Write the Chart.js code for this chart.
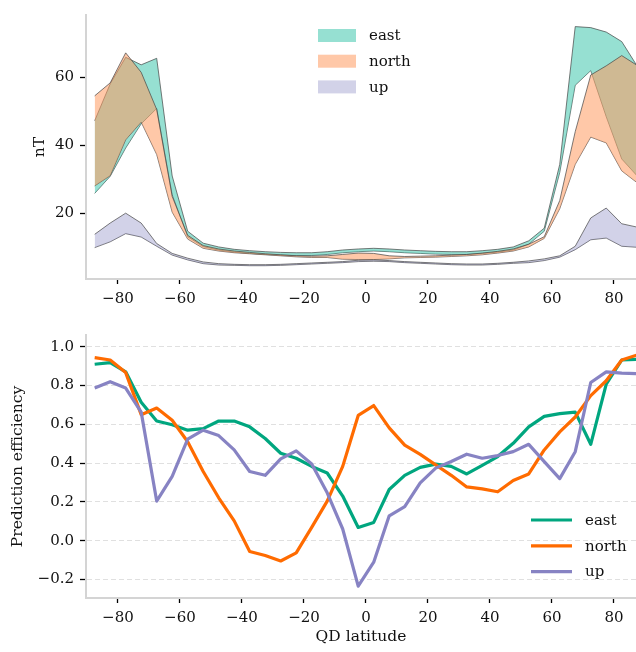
<!DOCTYPE html>
<html>
<head>
<meta charset="utf-8">
<script src="https://cdn.jsdelivr.net/npm/chart.js@4.4.1/dist/chart.umd.min.js"></script>
<style>
  body { margin: 0; background: #fff; }
  #wrap { position: relative; width: 636px; height: 652px; }
  canvas { position: absolute; left: 0; }
</style>
</head>
<body>
<div id="wrap">
  <canvas id="ampChart" width="636" height="320" style="top:0"></canvas>
  <canvas id="peChart" width="636" height="332" style="top:320px"></canvas>
</div>
<script>
// QD latitude bin centres
const lat = [-87.5, -82.5, -77.5, -72.5, -67.5, -62.5, -57.5, -52.5, -47.5, -42.5, -37.5, -32.5,
             -27.5, -22.5, -17.5, -12.5, -7.5, -2.5, 2.5, 7.5, 12.5, 17.5, 22.5, 27.5,
             32.5, 37.5, 42.5, 47.5, 52.5, 57.5, 62.5, 67.5, 72.5, 77.5, 82.5, 87.5];

const seriesNames = ["east", "north", "up"];

// upper panel: range of the perturbation (nT)
const eastHigh = [47.2, 58.0, 65.8, 63.6, 65.5, 31.0, 14.8, 11.3, 10.2, 9.5, 9.1, 8.8,
                  8.6, 8.5, 8.5, 8.8, 9.3, 9.6, 9.8, 9.6, 9.3, 9.1, 8.9, 8.8,
                  8.8, 9.1, 9.5, 10.2, 12.0, 15.7, 34.4, 74.8, 74.5, 73.2, 70.4, 63.2];
const eastLow  = [25.9, 30.9, 39.2, 46.3, 50.8, 25.5, 13.2, 10.3, 9.3, 8.7, 8.3, 8.0,
                  7.8, 7.7, 7.7, 8.0, 8.5, 8.8, 9.0, 8.8, 8.5, 8.3, 8.1, 8.0,
                  8.0, 8.3, 8.7, 9.3, 11.0, 14.8, 32.0, 57.6, 61.9, 48.4, 36.0, 31.0];
const northHigh = [54.5, 58.3, 67.1, 61.4, 50.5, 25.0, 13.6, 10.6, 9.6, 9.0, 8.6, 8.2,
                   7.9, 7.6, 7.5, 7.6, 8.0, 8.4, 8.3, 7.6, 7.4, 7.5, 7.6, 7.8,
                   8.0, 8.4, 8.9, 9.6, 11.0, 13.2, 23.8, 44.0, 60.6, 63.3, 66.3, 63.4];
const northLow  = [28.1, 31.1, 41.6, 46.8, 37.3, 20.4, 12.5, 9.8, 9.0, 8.5, 8.2, 7.9,
                   7.6, 7.3, 7.1, 7.1, 6.6, 6.5, 6.5, 6.7, 7.0, 7.1, 7.2, 7.4,
                   7.6, 7.9, 8.4, 9.0, 10.2, 12.7, 21.4, 34.4, 42.4, 40.7, 32.5, 29.0];
const upHigh = [13.9, 17.2, 20.1, 17.2, 11.2, 8.3, 6.9, 5.8, 5.3, 5.1, 5.0, 5.0,
                5.1, 5.3, 5.5, 5.7, 5.9, 6.3, 6.4, 6.2, 5.9, 5.7, 5.5, 5.3,
                5.2, 5.2, 5.4, 5.7, 6.1, 6.7, 7.6, 10.4, 18.7, 21.6, 17.0, 16.0];
const upLow  = [10.0, 11.7, 14.1, 13.1, 10.4, 7.8, 6.4, 5.3, 4.9, 4.8, 4.7, 4.7,
                4.8, 5.0, 5.2, 5.4, 5.6, 5.9, 6.0, 5.9, 5.6, 5.4, 5.2, 5.0,
                4.9, 4.9, 5.1, 5.4, 5.6, 6.2, 7.2, 9.4, 12.3, 12.8, 10.4, 10.1];

// lower panel: prediction efficiency
const eastPE = [0.910, 0.918, 0.871, 0.714, 0.617, 0.598, 0.570, 0.578, 0.617, 0.617, 0.587, 0.527,
                0.451, 0.425, 0.383, 0.349, 0.230, 0.068, 0.094, 0.264, 0.337, 0.378, 0.395, 0.383,
                0.344, 0.388, 0.434, 0.502, 0.587, 0.641, 0.655, 0.663, 0.497, 0.808, 0.932, 0.935];
const northPE = [0.944, 0.932, 0.867, 0.650, 0.684, 0.621, 0.510, 0.357, 0.221, 0.102, -0.056, -0.077,
                 -0.105, -0.063, 0.068, 0.204, 0.383, 0.646, 0.697, 0.582, 0.493, 0.445, 0.391, 0.337,
                 0.277, 0.267, 0.252, 0.310, 0.344, 0.468, 0.561, 0.638, 0.748, 0.825, 0.932, 0.958];
const upPE = [0.787, 0.820, 0.787, 0.663, 0.204, 0.332, 0.524, 0.570, 0.542, 0.468, 0.357, 0.337,
              0.422, 0.463, 0.395, 0.247, 0.060, -0.235, -0.111, 0.128, 0.175, 0.298, 0.374, 0.408,
              0.446, 0.425, 0.439, 0.459, 0.497, 0.408, 0.320, 0.459, 0.816, 0.871, 0.864, 0.862];

const xTicks = [-80, -60, -40, -20, 0, 20, 40, 60, 80];
const ampTicks = [20, 40, 60];
const peTicks = [-0.2, 0.0, 0.2, 0.4, 0.6, 0.8, 1.0];

const lineColors = ["#00a67f", "#ff6b00", "#8783c3"];
const fillColors = ["rgba(45,193,165,0.5)", "rgba(255,155,96,0.55)", "rgba(126,126,189,0.35)"];
const edge = "#444";
const spine = "#d4d4d4";

Chart.defaults.font.family = "'DejaVu Serif', serif";
Chart.defaults.font.size = 15;
Chart.defaults.color = "#111";

const pts = arr => arr.map((v, i) => ({ x: lat[i], y: v }));
const minus = v => (v < 0 ? "\u2212" : "") + Math.abs(v);

// legend drawn inside the plot area
const innerLegend = {
  id: "innerLegend",
  afterDraw(chart, args, opts) {
    const ctx = chart.ctx;
    ctx.save();
    ctx.font = "15px 'DejaVu Serif'";
    ctx.textBaseline = "middle";
    seriesNames.forEach((name, i) => {
      const y = opts.y + i * opts.gap;
      if (opts.kind === "box") {
        ctx.fillStyle = fillColors[i];
        ctx.fillRect(opts.x, y - 6.5, 38, 13);
      } else {
        ctx.strokeStyle = lineColors[i];
        ctx.lineWidth = 3.2;
        ctx.beginPath();
        ctx.moveTo(opts.x, y);
        ctx.lineTo(opts.x + 41, y);
        ctx.stroke();
      }
      ctx.fillStyle = "#111";
      ctx.fillText(name, opts.textX, y + 1);
    });
    ctx.restore();
  }
};

function xAxis(height, withTitle) {
  return {
    type: "linear",
    min: -90.3,
    max: 87.1,
    afterBuildTicks: s => { s.ticks = xTicks.map(v => ({ value: v })); },
    afterFit: s => { s.height = height; },
    ticks: { callback: v => minus(v), padding: 6, maxRotation: 0 },
    grid: { drawOnChartArea: false, tickLength: 5, tickColor: "#000", tickWidth: 1.3 },
    border: { color: spine, width: 2 },
    title: withTitle ? { display: true, text: "QD latitude", font: { size: 15.5 }, padding: { top: 0, bottom: 6 } } : { display: false }
  };
}

const bands = [];
[[eastHigh, eastLow], [northHigh, northLow], [upHigh, upLow]].forEach(([hi, lo], k) => {
  bands.push({ label: seriesNames[k], data: pts(hi), fill: "+1", backgroundColor: fillColors[k],
               borderColor: edge, borderWidth: 0.7, pointRadius: 0, order: 3 - k });
  bands.push({ label: seriesNames[k] + " low", data: pts(lo), fill: false,
               borderColor: edge, borderWidth: 0.7, pointRadius: 0, order: 3 - k });
});

new Chart(document.getElementById("ampChart"), {
  type: "line",
  data: { datasets: bands },
  options: {
    responsive: false,
    animation: false,
    devicePixelRatio: 1,
    layout: { padding: { top: 12, right: 0, left: 0, bottom: 0 } },
    plugins: {
      legend: { display: false },
      tooltip: { enabled: false },
      innerLegend: { kind: "box", x: 318, textX: 369, y: 35.5, gap: 25.7 }
    },
    scales: {
      x: xAxis(41, false),
      y: {
        min: 0.8,
        max: 78.2,
        afterBuildTicks: s => { s.ticks = ampTicks.map(v => ({ value: v })); },
        afterFit: s => { s.width = 86; },
        ticks: { padding: 6 },
        grid: { drawOnChartArea: false, tickLength: 6, tickColor: "#000", tickWidth: 1.3 },
        border: { color: spine, width: 2 },
        title: { display: true, text: "nT", font: { size: 15.5 }, padding: { top: 31, bottom: 0 } }
      }
    }
  },
  plugins: [innerLegend]
});

new Chart(document.getElementById("peChart"), {
  type: "line",
  data: {
    datasets: [eastPE, northPE, upPE].map((arr, k) => ({
      label: seriesNames[k],
      data: pts(arr),
      borderColor: lineColors[k],
      borderWidth: 3.2,
      borderJoinStyle: "round",
      pointRadius: 0,
      fill: false,
      order: 3 - k
    }))
  },
  options: {
    responsive: false,
    animation: false,
    devicePixelRatio: 1,
    layout: { padding: { top: 12, right: 0, left: 0, bottom: 0 } },
    plugins: {
      legend: { display: false },
      tooltip: { enabled: false },
      innerLegend: { kind: "line", x: 531, textX: 585, y: 200, gap: 25.8 }
    },
    scales: {
      x: xAxis(54, true),
      y: {
        min: -0.296,
        max: 1.061,
        afterBuildTicks: s => { s.ticks = peTicks.map(v => ({ value: v })); },
        afterFit: s => { s.width = 86; },
        ticks: { padding: 6, callback: v => (v < 0 ? "\u2212" : "") + Math.abs(v).toFixed(1) },
        grid: { color: "#dcdcdc", lineWidth: 0.9, tickLength: 6, tickColor: "#000", tickWidth: 1.3 },
        border: { color: spine, width: 2, dash: [5, 3] },
        title: { display: true, text: "Prediction efficiency", font: { size: 15.5 }, padding: { top: 9, bottom: 0 } }
      }
    }
  },
  plugins: [innerLegend]
});
</script>
</body>
</html>
